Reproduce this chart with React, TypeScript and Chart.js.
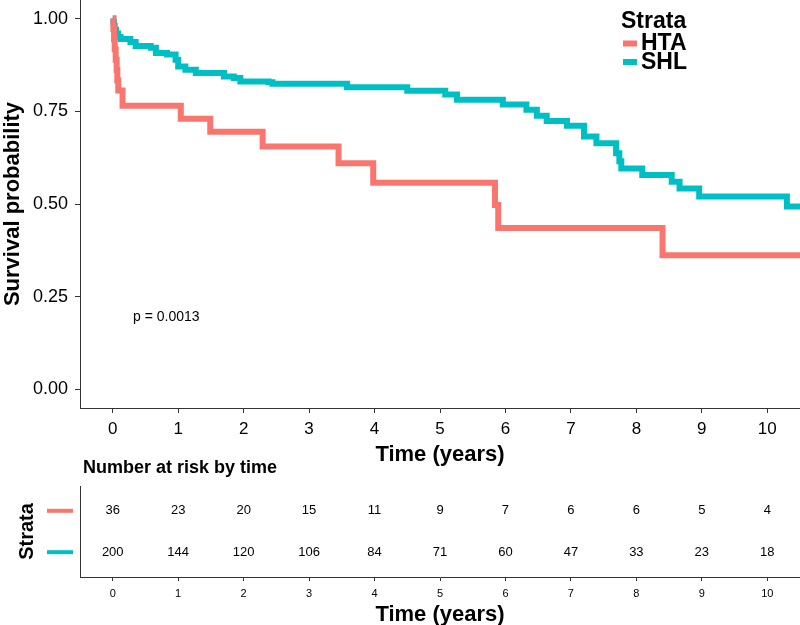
import React, { useEffect, useRef } from "react";
import { Chart, registerables } from "chart.js";

Chart.register(...registerables);

// ---- Data ----
const strata = ["HTA", "SHL"];
const htaTime = [0, 0.01, 0.02, 0.03, 0.045, 0.06, 0.07, 0.085, 0.15, 1.04, 1.49, 2.29, 3.45, 3.98, 5.84, 5.89, 8.4, 10.5];
const htaSurv = [1, 0.972, 0.944, 0.917, 0.889, 0.861, 0.833, 0.806, 0.765, 0.73, 0.695, 0.655, 0.61, 0.557, 0.497, 0.435, 0.362, 0.362];
const shlTime = [0, 0.01, 0.02, 0.03, 0.05, 0.08, 0.12, 0.27, 0.35, 0.58, 0.66, 0.83, 0.96, 1.0, 1.11, 1.27, 1.7, 1.85, 1.95, 2.38, 2.44, 3.58, 4.5, 5.08, 5.26, 5.96, 6.32, 6.48, 6.63, 6.94, 7.2, 7.39, 7.69, 7.74, 7.77, 8.09, 8.54, 8.66, 8.96, 10.3, 10.5];
const shlSurv = [1, 0.99, 0.98, 0.97, 0.96, 0.95, 0.945, 0.937, 0.926, 0.921, 0.907, 0.903, 0.889, 0.871, 0.862, 0.853, 0.844, 0.84, 0.83, 0.828, 0.824, 0.815, 0.805, 0.795, 0.781, 0.768, 0.754, 0.738, 0.724, 0.711, 0.682, 0.664, 0.637, 0.615, 0.596, 0.578, 0.56, 0.542, 0.52, 0.493, 0.493];
const riskTimes = [0, 1, 2, 3, 4, 5, 6, 7, 8, 9, 10];
const htaRisk = [36, 23, 20, 15, 11, 9, 7, 6, 6, 5, 4];
const shlRisk = [200, 144, 120, 106, 84, 71, 60, 47, 33, 23, 18];
const xTicks = [0, 1, 2, 3, 4, 5, 6, 7, 8, 9, 10];
const yTicks = [0, 0.25, 0.5, 0.75, 1];
const pValueText = "p = 0.0013";
const pValuePos = [0.31, 0.195];

const RED = "#F8766D";
const TEAL = "#00BFC4";
const AXIS = "#333333";
const FONT = '"Liberation Sans", Arial, Helvetica, sans-serif';
const colors = [RED, TEAL];

export default function App() {
  const topRef = useRef<HTMLCanvasElement | null>(null);
  const botRef = useRef<HTMLCanvasElement | null>(null);

  useEffect(() => {
    if (!topRef.current || !botRef.current) return;

    const legendPlugin = {
      id: "kmLegend",
      afterDraw(chart: any) {
        const ctx = chart.ctx;
        ctx.save();
        ctx.textAlign = "left";
        ctx.textBaseline = "middle";
        ctx.fillStyle = "#000";
        ctx.font = `bold 23px ${FONT}`;
        ctx.fillText("Strata", 621, 22);
        chart.data.datasets.forEach((ds: any, i: number) => {
          const yc = 43.5 + i * 18.5;
          ctx.fillStyle = ds.borderColor;
          ctx.fillRect(623, yc - 3, 14, 6);
          ctx.fillStyle = "#000";
          ctx.fillText(ds.label, 641, yc + 0.5);
        });
        // p-value
        const xs = chart.scales.x;
        const ys = chart.scales.y;
        ctx.font = `14px ${FONT}`;
        ctx.fillStyle = "#000";
        ctx.fillText(pValueText, xs.getPixelForValue(pValuePos[0]), ys.getPixelForValue(pValuePos[1]));
        ctx.restore();
      },
    };

    const top = new Chart(topRef.current, {
      type: "line",
      data: {
        datasets: [
          {
            label: strata[0],
            data: htaTime.map((t, i) => ({ x: t, y: htaSurv[i] })),
            borderColor: RED,
            backgroundColor: RED,
            borderWidth: 6,
            pointRadius: 0,
            stepped: true,
            fill: false,
            borderCapStyle: "butt",
            borderJoinStyle: "miter",
          },
          {
            label: strata[1],
            data: shlTime.map((t, i) => ({ x: t, y: shlSurv[i] })),
            borderColor: TEAL,
            backgroundColor: TEAL,
            borderWidth: 6,
            pointRadius: 0,
            stepped: true,
            fill: false,
            borderCapStyle: "butt",
            borderJoinStyle: "miter",
          },
        ],
      },
      options: {
        animation: false,
        responsive: false,
        devicePixelRatio: 1,
        layout: { padding: 0 },
        plugins: { legend: { display: false }, tooltip: { enabled: false }, title: { display: false } },
        scales: {
          x: {
            type: "linear",
            min: -0.5,
            max: 10.5,
            afterBuildTicks: (s: any) => {
              s.ticks = xTicks.map((v) => ({ value: v }));
            },
            afterFit: (s: any) => {
              s.height = 62;
              s.paddingLeft = 0;
              s.paddingRight = 0;
            },
            grid: { drawOnChartArea: false, drawTicks: true, tickLength: 5, color: AXIS, lineWidth: 1 },
            border: { display: true, color: AXIS, width: 1 },
            ticks: { font: { family: FONT, size: 17 }, color: "#000", padding: 6, maxRotation: 0, autoSkip: false },
            title: {
              display: true,
              text: "Time (years)",
              color: "#000",
              font: { family: FONT, size: 22, weight: "bold" },
              padding: { top: 0, bottom: 2 },
            },
          },
          y: {
            type: "linear",
            min: -0.05,
            max: 1.05,
            afterBuildTicks: (s: any) => {
              s.ticks = yTicks.map((v) => ({ value: v }));
            },
            afterFit: (s: any) => {
              s.width = 80;
              s.paddingTop = 0;
              s.paddingBottom = 0;
            },
            grid: { drawOnChartArea: false, drawTicks: true, tickLength: 5, color: AXIS, lineWidth: 1 },
            border: { display: true, color: AXIS, width: 1 },
            ticks: {
              font: { family: FONT, size: 18 },
              color: "#000",
              padding: 7,
              callback: (v: any) => Number(v).toFixed(2),
            },
            title: {
              display: true,
              text: "Survival probability",
              color: "#000",
              font: { family: FONT, size: 22, weight: "bold" },
              padding: { top: 0, bottom: 0 },
            },
          },
        },
      },
      plugins: [legendPlugin],
    } as any);

    const riskPlugin = {
      id: "riskText",
      afterDatasetsDraw(chart: any) {
        const ctx = chart.ctx;
        ctx.save();
        ctx.textAlign = "center";
        ctx.textBaseline = "middle";
        ctx.fillStyle = "#000";
        ctx.font = `13px ${FONT}`;
        const risks = [htaRisk, shlRisk];
        chart.data.datasets.forEach((ds: any, i: number) => {
          const meta = chart.getDatasetMeta(i);
          meta.data.forEach((el: any, j: number) => {
            ctx.fillText(String(risks[i][j]), el.x, el.y);
          });
        });
        ctx.restore();
      },
      afterDraw(chart: any) {
        const ctx = chart.ctx;
        const ys = chart.scales.y;
        ctx.save();
        chart.data.datasets.forEach((ds: any, i: number) => {
          const y = ys.getPixelForValue(i + 1);
          ctx.strokeStyle = colors[i];
          ctx.lineWidth = 4;
          ctx.beginPath();
          ctx.moveTo(47, y);
          ctx.lineTo(73, y);
          ctx.stroke();
        });
        ctx.fillStyle = "#000";
        ctx.textAlign = "left";
        ctx.textBaseline = "middle";
        ctx.font = `bold 18px ${FONT}`;
        ctx.fillText("Number at risk by time", 83, 11);
        ctx.restore();
      },
    };

    const bot = new Chart(botRef.current, {
      type: "scatter",
      data: {
        datasets: [
          {
            label: strata[0],
            data: riskTimes.map((t) => ({ x: t, y: 1 })),
            pointRadius: 0,
            showLine: false,
          },
          {
            label: strata[1],
            data: riskTimes.map((t) => ({ x: t, y: 2 })),
            pointRadius: 0,
            showLine: false,
          },
        ],
      },
      options: {
        animation: false,
        responsive: false,
        devicePixelRatio: 1,
        layout: { padding: { top: 29, left: 0, right: 0, bottom: 0 } },
        plugins: { legend: { display: false }, tooltip: { enabled: false }, title: { display: false } },
        scales: {
          x: {
            type: "linear",
            min: -0.5,
            max: 10.5,
            afterBuildTicks: (s: any) => {
              s.ticks = riskTimes.map((v) => ({ value: v }));
            },
            afterFit: (s: any) => {
              s.height = 49;
              s.paddingLeft = 0;
              s.paddingRight = 0;
            },
            grid: { drawOnChartArea: false, drawTicks: true, tickLength: 4, color: AXIS, lineWidth: 1 },
            border: { display: true, color: AXIS, width: 1 },
            ticks: { font: { family: FONT, size: 11 }, color: "#000", padding: 6, maxRotation: 0, autoSkip: false },
            title: {
              display: true,
              text: "Time (years)",
              color: "#000",
              font: { family: FONT, size: 22, weight: "bold" },
              padding: { top: 0, bottom: -2 },
            },
          },
          y: {
            type: "linear",
            min: 0.4,
            max: 2.6,
            reverse: true,
            afterBuildTicks: (s: any) => {
              s.ticks = [1, 2].map((v) => ({ value: v }));
            },
            afterFit: (s: any) => {
              s.width = 80;
              s.paddingTop = 0;
              s.paddingBottom = 0;
            },
            grid: { display: false },
            border: { display: true, color: AXIS, width: 1 },
            ticks: { display: false },
            title: {
              display: true,
              text: "Strata",
              color: "#000",
              font: { family: FONT, size: 20, weight: "bold" },
              padding: { top: 15, bottom: 0 },
            },
          },
        },
      },
      plugins: [riskPlugin],
    } as any);

    return () => {
      top.destroy();
      bot.destroy();
    };
  }, []);

  return (
    <div style={{ position: "absolute", left: 0, top: 0, width: 800, height: 625, background: "#fff", overflow: "hidden" }}>
      <canvas ref={topRef} width={800} height={470} style={{ position: "absolute", left: 0, top: 0, width: 800, height: 470 }} />
      <canvas ref={botRef} width={800} height={169} style={{ position: "absolute", left: 0, top: 457, width: 800, height: 169 }} />
    </div>
  );
}
